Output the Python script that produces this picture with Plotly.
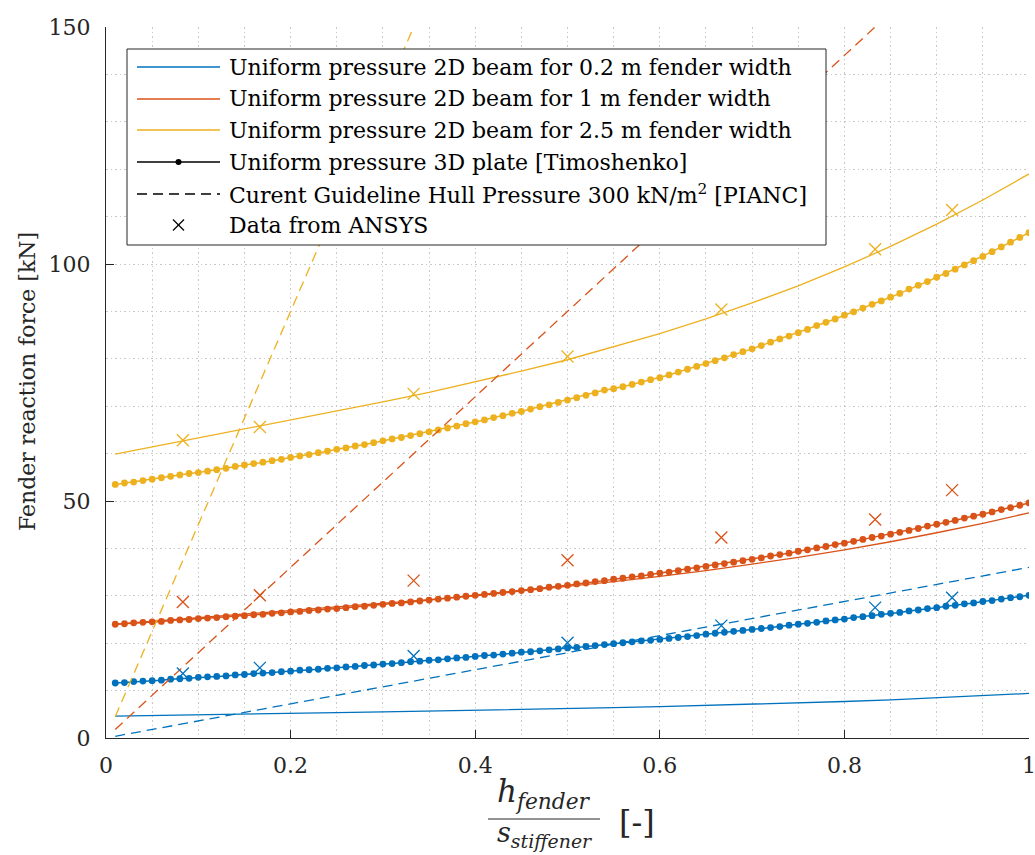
import plotly.graph_objects as go

# ---------------- data ----------------
x_plate = [i / 100 for i in range(1, 101)]

plate_02 = [11.6, 11.7, 11.9, 12.0, 12.1, 12.2, 12.4, 12.5, 12.6, 12.8,
            12.9, 13.0, 13.1, 13.3, 13.4, 13.6, 13.7, 13.8, 14.0, 14.1,
            14.3, 14.4, 14.5, 14.7, 14.8, 15.0, 15.1, 15.3, 15.4, 15.6,
            15.7, 15.9, 16.1, 16.2, 16.4, 16.5, 16.7, 16.9, 17.0, 17.2,
            17.4, 17.5, 17.7, 17.9, 18.1, 18.2, 18.4, 18.6, 18.8, 19.0,
            19.1, 19.3, 19.5, 19.7, 19.9, 20.1, 20.3, 20.5, 20.6, 20.8,
            21.0, 21.2, 21.4, 21.6, 21.9, 22.1, 22.3, 22.5, 22.7, 22.9,
            23.1, 23.3, 23.5, 23.8, 24.0, 24.2, 24.4, 24.7, 24.9, 25.1,
            25.4, 25.6, 25.8, 26.1, 26.3, 26.5, 26.8, 27.0, 27.3, 27.5,
            27.8, 28.0, 28.3, 28.5, 28.8, 29.0, 29.3, 29.6, 29.8, 30.1]

plate_1 = [24.0, 24.1, 24.3, 24.4, 24.5, 24.6, 24.8, 24.9, 25.0, 25.2,
           25.3, 25.4, 25.6, 25.7, 25.8, 26.0, 26.1, 26.3, 26.4, 26.6,
           26.7, 26.9, 27.0, 27.2, 27.3, 27.5, 27.7, 27.8, 28.0, 28.2,
           28.4, 28.5, 28.7, 28.9, 29.1, 29.3, 29.5, 29.7, 29.9, 30.1,
           30.3, 30.5, 30.7, 30.9, 31.1, 31.3, 31.5, 31.8, 32.0, 32.2,
           32.5, 32.7, 33.0, 33.2, 33.5, 33.7, 34.0, 34.2, 34.5, 34.8,
           35.0, 35.3, 35.6, 35.9, 36.2, 36.5, 36.8, 37.1, 37.4, 37.7,
           38.0, 38.4, 38.7, 39.0, 39.4, 39.7, 40.1, 40.4, 40.8, 41.1,
           41.5, 41.9, 42.3, 42.6, 43.0, 43.4, 43.8, 44.2, 44.7, 45.1,
           45.5, 45.9, 46.4, 46.8, 47.2, 47.7, 48.2, 48.6, 49.1, 49.6]

plate_25 = [53.5, 53.8, 54.0, 54.3, 54.6, 54.9, 55.2, 55.5, 55.8, 56.0,
            56.3, 56.6, 56.9, 57.3, 57.6, 57.9, 58.2, 58.5, 58.8, 59.2,
            59.5, 59.8, 60.2, 60.5, 60.9, 61.2, 61.6, 61.9, 62.3, 62.7,
            63.1, 63.4, 63.8, 64.2, 64.6, 65.0, 65.4, 65.8, 66.3, 66.7,
            67.1, 67.6, 68.0, 68.5, 68.9, 69.4, 69.9, 70.3, 70.8, 71.3,
            71.8, 72.3, 72.8, 73.4, 73.7, 74.1, 74.6, 75.1, 75.6, 76.0,
            76.6, 77.2, 77.8, 78.4, 79.0, 79.6, 80.2, 80.9, 81.5, 82.1,
            82.8, 83.5, 84.2, 84.8, 85.5, 86.2, 87.0, 87.7, 88.4, 89.2,
            89.9, 90.7, 91.5, 92.2, 93.0, 93.8, 94.7, 95.5, 96.3, 97.2,
            98.0, 98.9, 99.8, 100.7, 101.6, 102.6, 103.6, 104.6, 105.6, 106.6]

x_beam = [0.01, 0.05, 0.10, 0.15, 0.20, 0.25, 0.30, 0.35, 0.40, 0.45, 0.50,
          0.55, 0.60, 0.65, 0.70, 0.75, 0.80, 0.85, 0.90, 0.95, 1.00]
beam_02 = [4.6, 4.75, 4.9, 5.05, 5.2, 5.35, 5.5, 5.65, 5.8, 6.0, 6.2,
           6.4, 6.6, 6.85, 7.1, 7.4, 7.7, 8.05, 8.45, 8.9, 9.4]
beam_1 = [24.0, 24.6, 25.3, 26.1, 26.8, 27.6, 28.4, 29.2, 30.0, 31.0, 31.9,
          33.0, 34.1, 35.3, 36.7, 38.1, 39.7, 41.4, 43.3, 45.3, 47.5]
beam_25 = [59.9, 61.4, 63.3, 65.2, 67.0, 68.9, 70.9, 72.9, 75.1, 77.4, 79.8,
           82.5, 85.3, 88.4, 91.8, 95.4, 99.4, 103.7, 108.4, 113.5, 119.0]

x_pianc = [0.01, 1.0]
pianc_02 = [0.36, 36.0]
pianc_1 = [1.8, 180.0]
pianc_25 = [4.5, 450.0]

x_ansys = [0.0833, 0.1667, 0.3333, 0.5, 0.6667, 0.8333, 0.9167]
ansys_02 = [13.6, 14.8, 17.3, 20.1, 23.7, 27.5, 29.6]
ansys_1 = [28.7, 30.1, 33.2, 37.5, 42.3, 46.1, 52.3]
ansys_25 = [62.8, 65.6, 72.6, 80.5, 90.4, 103.1, 111.4]

x_tickvals = [0, 0.2, 0.4, 0.6, 0.8, 1.0]
x_ticktext = ["0", "0.2", "0.4", "0.6", "0.8", "1"]
y_tickvals = [0, 50, 100, 150]

legend_labels = [
    "Uniform pressure 2D beam for 0.2 m fender width",
    "Uniform pressure 2D beam for 1 m fender width",
    "Uniform pressure 2D beam for 2.5 m fender width",
    "Uniform pressure 3D plate [Timoshenko]",
    "Curent Guideline Hull Pressure 300 kN/m<sup>2</sup> [PIANC]",
    "Data from ANSYS",
]

# ---------------- styles ----------------
BLUE, RED, YEL = "#0072BD", "#D95319", "#EDB120"
AX = "#262626"
FONT = "DejaVu Serif"
W, H = 1035, 855
ML, MR, MT, MB = 106, 6, 27, 117
PW, PH = W - ML - MR, H - MT - MB


def px(xp):
    return (xp - ML) / PW


def py(yp):
    return (H - MB - yp) / PH


fig = go.Figure()
colors = [BLUE, RED, YEL]

for yv, c in zip([beam_02, beam_1, beam_25], colors):
    fig.add_trace(go.Scatter(x=x_beam, y=yv, mode="lines",
                             line=dict(color=c, width=1.3), showlegend=False))
for yv, c in zip([plate_02, plate_1, plate_25], colors):
    fig.add_trace(go.Scatter(x=x_plate, y=yv, mode="lines+markers",
                             line=dict(color=c, width=1.5),
                             marker=dict(color=c, size=6.8, symbol="circle"),
                             showlegend=False))
for yv, c in zip([pianc_02, pianc_1, pianc_25], colors):
    fig.add_trace(go.Scatter(x=x_pianc, y=yv, mode="lines",
                             line=dict(color=c, width=1.3, dash="10px,6px"),
                             showlegend=False))
for yv, c in zip([ansys_02, ansys_1, ansys_25], colors):
    fig.add_trace(go.Scatter(x=x_ansys, y=yv, mode="markers",
                             marker=dict(symbol="x-thin", size=12,
                                         line=dict(color=c, width=1.3)),
                             showlegend=False))

grid = dict(gridcolor="#c8c8c8", gridwidth=1, griddash="1.5px,3px")

fig.update_xaxes(range=[0, 1], tickmode="array", tickvals=x_tickvals,
                 ticktext=x_ticktext, showline=True, linecolor=AX,
                 linewidth=1, ticks="inside", ticklen=8, tickcolor=AX,
                 tickfont=dict(family=FONT, size=22, color=AX),
                 ticklabelstandoff=8, ticklabeloverflow="allow", automargin=False,
                 zeroline=False, showgrid=True, **grid,
                 minor=dict(dtick=0.05, tick0=0, showgrid=True, ticks="", **grid))
fig.update_yaxes(range=[0, 150], tickmode="array", tickvals=y_tickvals,
                 showline=True, linecolor=AX,
                 linewidth=1, ticks="inside", ticklen=8, tickcolor=AX,
                 tickfont=dict(family=FONT, size=22, color=AX),
                 ticklabelstandoff=10, ticklabeloverflow="allow", automargin=False,
                 zeroline=False, showgrid=True, **grid,
                 minor=dict(dtick=10, tick0=0, showgrid=True, ticks="", **grid))

shapes = []
annotations = []

# legend box
shapes.append(dict(type="rect", xref="paper", yref="paper",
                   x0=px(127), x1=px(826), y0=py(245), y1=py(49),
                   fillcolor="white", line=dict(color=AX, width=1), layer="above"))
rows = [67, 99, 130, 162, 194, 225]
lx0, lx1, mx, tx = 137, 220, 178.5, 227
for i, r in enumerate(rows):
    if i < 3:
        shapes.append(dict(type="line", xref="paper", yref="paper",
                           x0=px(lx0), x1=px(lx1), y0=py(r), y1=py(r),
                           line=dict(color=colors[i], width=1.3), layer="above"))
    elif i == 3:
        shapes.append(dict(type="line", xref="paper", yref="paper",
                           x0=px(lx0), x1=px(lx1), y0=py(r), y1=py(r),
                           line=dict(color="black", width=1.3), layer="above"))
        shapes.append(dict(type="circle", xref="paper", yref="paper",
                           x0=px(mx - 3), x1=px(mx + 3), y0=py(r + 3), y1=py(r - 3),
                           fillcolor="black", line=dict(color="black", width=0),
                           layer="above"))
    elif i == 4:
        shapes.append(dict(type="line", xref="paper", yref="paper",
                           x0=px(lx0), x1=px(lx1), y0=py(r), y1=py(r),
                           line=dict(color="black", width=1.3, dash="10px,6px"),
                           layer="above"))
    else:
        for a, b in [(-5.5, 5.5), (5.5, -5.5)]:
            shapes.append(dict(type="line", xref="paper", yref="paper",
                               x0=px(mx - 5.5), x1=px(mx + 5.5),
                               y0=py(r + a), y1=py(r + b),
                               line=dict(color="black", width=1.2), layer="above"))
    annotations.append(dict(xref="paper", yref="paper", x=px(tx), y=py(r),
                            xanchor="left", yanchor="middle", showarrow=False,
                            text=legend_labels[i],
                            font=dict(family=FONT, size=22, color="black")))

# y-axis title
annotations.append(dict(xref="paper", yref="paper", x=px(27), y=py(382),
                        xanchor="center", yanchor="middle", showarrow=False,
                        textangle=-90, text="Fender reaction force [kN]",
                        font=dict(family=FONT, size=22, color=AX)))

# x-axis title: fraction h_fender / s_stiffener  [-]
shapes.append(dict(type="line", xref="paper", yref="paper",
                   x0=px(488), x1=px(600), y0=py(819), y1=py(819),
                   line=dict(color=AX, width=1.2)))
annotations.append(dict(xref="paper", yref="paper", x=px(544), y=py(816),
                        xanchor="center", yanchor="bottom", showarrow=False,
                        text="<i>h</i><sub><i>fender</i></sub>",
                        font=dict(family=FONT, size=31, color=AX)))
annotations.append(dict(xref="paper", yref="paper", x=px(544), y=py(815),
                        xanchor="center", yanchor="top", showarrow=False,
                        text="<i>s</i><sub><i>stiffener</i></sub>",
                        font=dict(family=FONT, size=27, color=AX)))
annotations.append(dict(xref="paper", yref="paper", x=px(637), y=py(822),
                        xanchor="center", yanchor="middle", showarrow=False,
                        text="[-]", font=dict(family=FONT, size=32, color=AX)))

fig.update_layout(width=W, height=H, margin=dict(l=ML, r=MR, t=MT, b=MB),
                  paper_bgcolor="white", plot_bgcolor="white",
                  shapes=shapes, annotations=annotations, showlegend=False)

fig.write_html("out.html")
